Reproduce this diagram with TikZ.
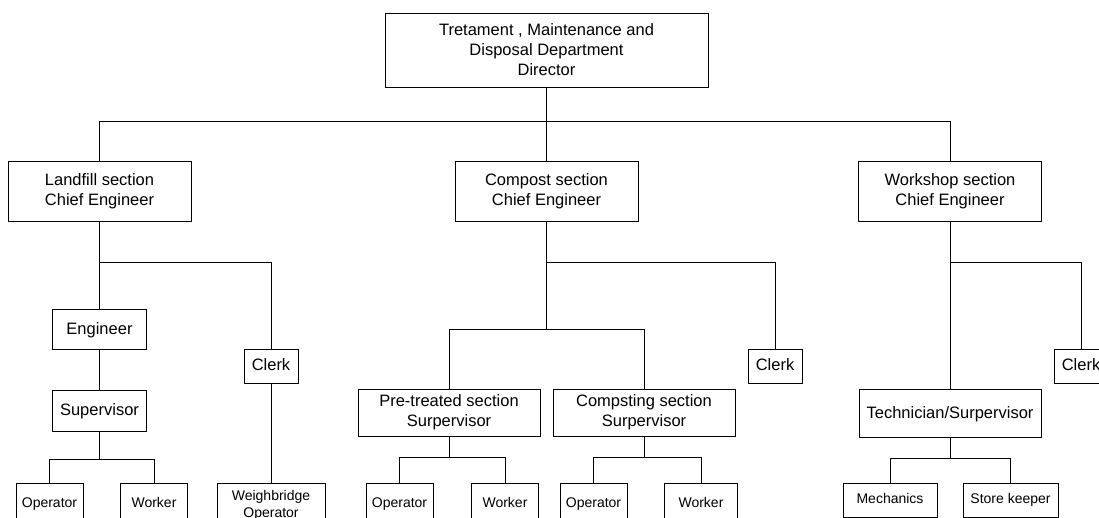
\documentclass[tikz,border=0pt]{standalone}
\usepackage{fontspec}
\setmainfont{Liberation Sans}
\usetikzlibrary{positioning}

\begin{document}
\begin{tikzpicture}[
    x=1pt, y=-1pt,
    node distance=40pt,
    box/.style={rectangle, draw=black, line width=0.9pt, inner sep=0pt, align=center, font=\fontsize{16.5}{20}\selectfont},
    single/.style={box, text height=12pt, text depth=3.5pt},
    small/.style={box, anchor=north, font=\fontsize{14}{17}\selectfont},
    tiny/.style={small, text height=10pt, text depth=3pt},
    link/.style={draw=black, line width=0.9pt}
]
    \useasboundingbox (0,0) rectangle (1099,518);
    \clip (0,0) rectangle (1099,518);

    % top level
    \node[box, minimum width=323pt, minimum height=74pt] (director) at (546.5,50) {Tretament , Maintenance and\\Disposal Department\\Director};
    \node[box, minimum width=183pt, minimum height=60pt] (landfill) at (99.5,191) {Landfill section\\Chief Engineer};
    \node[box, minimum width=183pt, minimum height=60pt] (compost) at (546.5,191) {Compost section\\Chief Engineer};
    \node[box, minimum width=183pt, minimum height=60pt] (workshop) at (950,191) {Workshop section\\Chief Engineer};

    % landfill section
    \node[single, minimum width=94pt, minimum height=40pt, below=88pt of landfill] (engineer) {Engineer};
    \node[single, minimum width=94pt, minimum height=41pt, below=of engineer] (supervisor) {Supervisor};
    \node[single, minimum width=54pt, minimum height=34pt] (clerkA) at (271,366) {Clerk};
    \node[tiny, minimum width=67pt, minimum height=42pt] (operatorA) at (49.5,483) {Operator};
    \node[tiny, minimum width=67pt, minimum height=42pt] (workerA) at (154,483) {Worker};
    \node[small, minimum width=108pt, minimum height=43pt] (weighbridge) at (271,483) {Weighbridge\\Operator};

    % compost section
    \node[single, minimum width=54pt, minimum height=34pt] (clerkB) at (775,366) {Clerk};
    \node[box, minimum width=182pt, minimum height=47pt] (pretreated) at (449,412.5) {Pre-treated section\\Surpervisor};
    \node[box, minimum width=182pt, minimum height=47pt] (compsting) at (644,412.5) {Compsting section\\Surpervisor};
    \node[tiny, minimum width=67pt, minimum height=42pt] (operatorB) at (399.5,483) {Operator};
    \node[tiny, minimum width=67pt, minimum height=42pt] (workerB) at (505,483) {Worker};
    \node[tiny, minimum width=67pt, minimum height=42pt] (operatorC) at (593.5,483) {Operator};
    \node[tiny, minimum width=73pt, minimum height=42pt] (workerC) at (701,483) {Worker};

    % workshop section
    \node[single, minimum width=182pt, minimum height=48pt, below=168pt of workshop] (technician) {Technician/Surpervisor};
    \node[single, minimum width=54pt, minimum height=34pt] (clerkC) at (1081,366) {Clerk};
    \node[tiny, minimum width=94pt, minimum height=34pt] (mechanics) at (890,483) {Mechanics};
    \node[tiny, minimum width=95pt, minimum height=34pt] (storekeeper) at (1010.5,483) {Store keeper};

    % connectors
    \coordinate[below=34pt of director] (busTop);
    \draw[link] (director) -- (busTop);
    \draw[link] (landfill.north) |- (busTop) -| (workshop.north);
    \draw[link] (busTop) -- (compost);

    \coordinate[below=41pt of landfill] (busLand);
    \draw[link] (landfill) -- (engineer);
    \draw[link] (busLand) -| (clerkA.north);
    \draw[link] (engineer) -- (supervisor);
    \coordinate[below=27pt of supervisor] (busSup);
    \draw[link] (supervisor) -- (busSup);
    \draw[link] (operatorA.north) |- (busSup) -| (workerA.north);
    \draw[link] (clerkA) -- (weighbridge);

    \coordinate[below=41pt of compost] (busComp);
    \draw[link] (busComp) -| (clerkB.north);
    \coordinate[below=108pt of compost] (busSec);
    \draw[link] (compost) -- (busSec);
    \draw[link] (pretreated.north) |- (busSec) -| (compsting.north);
    \coordinate[below=21pt of pretreated] (busPre);
    \draw[link] (pretreated) -- (busPre);
    \draw[link] (operatorB.north) |- (busPre) -| (workerB.north);
    \coordinate[below=21pt of compsting] (busCmp);
    \draw[link] (compsting) -- (busCmp);
    \draw[link] (operatorC.north) |- (busCmp) -| (workerC.north);

    \coordinate[below=41pt of workshop] (busShop);
    \draw[link] (workshop) -- (technician);
    \draw[link] (busShop) -| (clerkC.north);
    \coordinate[below=20pt of technician] (busTech);
    \draw[link] (technician) -- (busTech);
    \draw[link] (mechanics.north) |- (busTech) -| (storekeeper.north);
\end{tikzpicture}
\end{document}
